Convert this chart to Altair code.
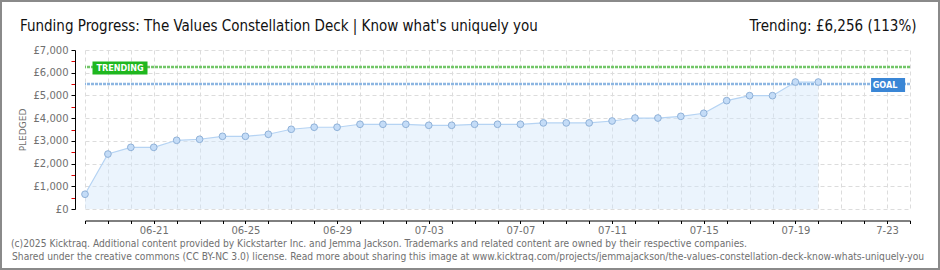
import altair as alt
import pandas as pd

# ---------------- data ----------------
START = "2025-06-18"
END = "2025-07-24"
PLEDGED = [650, 2420, 2715, 2715, 3025, 3070, 3200, 3200, 3290, 3510, 3600, 3600,
           3730, 3730, 3730, 3685, 3685, 3730, 3730, 3730, 3790, 3790, 3790, 3875,
           4005, 4005, 4080, 4215, 4770, 4990, 4990, 5590, 5590]
GOAL = 5500
TRENDING = 6256
TICK_KEYS = ["06-21", "06-25", "06-29", "07-03", "07-07", "07-11", "07-15", "07-19", "07-23"]
TICK_LABELS = ["06-21", "06-25", "06-29", "07-03", "07-07", "07-11", "07-15", "07-19", "7-23"]
Y_TICKS = list(range(0, 7001, 500))

TITLE = "Funding Progress: The Values Constellation Deck | Know what's uniquely you"
RIGHT_TITLE = "Trending:  £6,256 (113%)"
FOOTER1 = ("(c)2025 Kicktraq. Additional content provided by Kickstarter Inc. and Jemma Jackson. "
           "Trademarks and related content are owned by their respective companies.")
FOOTER2 = ("Shared under the creative commons (CC BY-NC 3.0) license. Read more about sharing this image at "
           "www.kicktraq.com/projects/jemmajackson/the-values-constellation-deck-know-whats-uniquely-you")

dates = pd.date_range(START, periods=len(PLEDGED), freq="D")
df = pd.DataFrame({"date": dates.strftime("%Y-%m-%d"), "pledged": PLEDGED})

all_days = pd.date_range(START, END, freq="D")
day_ms = [int(d.value // 10**6) for d in all_days]

lab = "''"
for k, l in zip(TICK_KEYS, TICK_LABELS):
    lab = f"(utcFormat(datum.value, '%m-%d') == '{k}' ? '{l}' : {lab})"

xscale = alt.Scale(type="utc", domain=[day_ms[0], day_ms[-1]])
yscale = alt.Scale(domain=[0, 7000], nice=False)

grid_col = "#dcdcdc"
axis_font = "DejaVu Sans"
cond_font = "DejaVu Sans Condensed"

x_axis = alt.Axis(values=day_ms, tickCount=200, labelExpr=lab, tickSize=3, tickColor="#000", tickWidth=1,
                  domainColor="#000", domainWidth=1, offset=11.5, grid=True, gridColor=grid_col,
                  gridDash=[4, 3], labelFont=axis_font, labelFontSize=10, labelColor="#707070",
                  labelPadding=2, labelFlush=False, labelOverlap=False, title=None)
y_axis = alt.Axis(values=Y_TICKS, tickCount=200,
                  labelExpr="datum.value % 1000 == 0 ? '£' + format(datum.value, ',') : ''",
                  tickSize=4, tickWidth=1,
                  tickColor={"condition": {"test": "datum.value % 1000 != 0", "value": "#e00000"}, "value": "#000"},
                  domainColor="#000", domainWidth=1, offset=10, grid=True, gridColor=grid_col,
                  gridDash=[4, 3],
                  gridOpacity={"condition": {"test": "datum.value % 1000 != 0", "value": 0}, "value": 1},
                  labelFont=axis_font, labelFontSize=10, labelColor="#707070", labelPadding=3,
                  labelFlush=False, labelOverlap=False, title="PLEDGED", titleFont=axis_font, titleFontSize=9,
                  titleFontWeight="normal", titleColor="#707070", titlePadding=6)

X = alt.X("date:T", scale=xscale, axis=x_axis)
Y = alt.Y("pledged:Q", scale=yscale, axis=y_axis)

base = alt.Chart(df)
area = base.mark_area(color="#d0e4fa", opacity=0.42).encode(x=X, y=Y)
line = base.mark_line(color="#b5d3f3", strokeWidth=1.2).encode(x=X, y=Y)
points = base.mark_circle(fill="#c4dcf7", stroke="#8fb1d8", strokeWidth=1, size=45, opacity=1).encode(x=X, y=Y)

trend_rule = alt.Chart(pd.DataFrame({"v": [TRENDING]})).mark_rule(
    color="#72c668", strokeWidth=2.5, strokeDash=[3, 1]).encode(y=alt.Y("v:Q", scale=yscale))
goal_rule = alt.Chart(pd.DataFrame({"v": [GOAL]})).mark_rule(
    color="#8db6e2", strokeWidth=2.5, strokeDash=[3, 1]).encode(y=alt.Y("v:Q", scale=yscale))

trend_df = pd.DataFrame({"d": [START], "v": [TRENDING], "t": ["TRENDING"]})
goal_df = pd.DataFrame({"d": ["2025-07-23"], "v": [GOAL], "t": ["GOAL"]})
lx = lambda: alt.X("d:T", scale=xscale)
ly = lambda: alt.Y("v:Q", scale=yscale)

trend_box = alt.Chart(trend_df).mark_point(
    shape="M-1,-0.236L1,-0.236L1,0.236L-1,0.236Z", size=3025, filled=True, fill="#1fb71f",
    strokeWidth=0, opacity=1, xOffset=35, yOffset=1).encode(x=lx(), y=ly())
trend_txt = alt.Chart(trend_df).mark_text(
    font=cond_font, fontWeight="bold", fontSize=9, color="white",
    xOffset=35, yOffset=1, baseline="middle", align="center").encode(x=lx(), y=ly(), text="t:N")
goal_box = alt.Chart(goal_df).mark_point(
    shape="M-1,-0.41L1,-0.41L1,0.41L-1,0.41Z", size=1156, filled=True, fill="#3a86d6",
    strokeWidth=0, opacity=1, xOffset=1, yOffset=1).encode(x=lx(), y=ly())
goal_txt = alt.Chart(goal_df).mark_text(
    font=cond_font, fontWeight="bold", fontSize=9, color="white",
    xOffset=-2, yOffset=1, baseline="middle", align="center").encode(x=lx(), y=ly(), text="t:N")

def label(text, x, y, size, font, color, align="left"):
    return alt.Chart(pd.DataFrame({"t": [text]})).mark_text(
        font=font, fontSize=size, color=color, align=align, baseline="alphabetic").encode(
        x=alt.value(x), y=alt.value(y), text="t:N")

title = label(TITLE, -65, -19, 15, cond_font, "#111")
rtitle = label(RIGHT_TITLE, 831.5, -19, 15, cond_font, "#111", "right")
foot1 = label(FOOTER1, -74, 197, 10.2, cond_font, "#707070")
foot2 = label(FOOTER2, -73, 209.5, 10.2, cond_font, "#707070")

border = alt.Chart(pd.DataFrame({"a": [0]})).mark_rect(
    fillOpacity=0, stroke="#8a8a8a", strokeWidth=2).encode(
    x=alt.value(-84), x2=alt.value(854), y=alt.value(-49), y2=alt.value(219))

chart = alt.layer(
    area, trend_rule, goal_rule, line, points, trend_box, trend_txt, goal_box, goal_txt,
    title, rtitle, foot1, foot2, border
).properties(
    width=825, height=159,
    padding={"left": 85, "top": 50, "right": 30, "bottom": 61},
    autosize=alt.AutoSizeParams(type="none"),
    background="white",
).configure_view(stroke=None)

chart.save("out.html", embed_options={"renderer": "svg", "actions": False})
